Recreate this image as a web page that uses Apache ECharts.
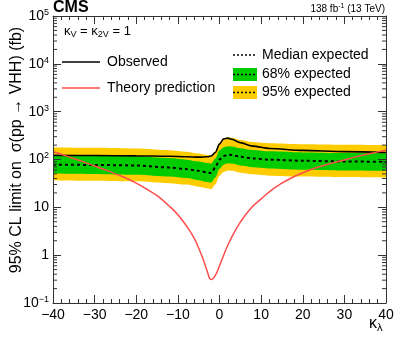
<!DOCTYPE html>
<html>
<head>
<meta charset="utf-8">
<script src="https://cdn.jsdelivr.net/npm/echarts@6/dist/echarts.min.js"></script>
<style>
  html, body { margin: 0; padding: 0; background: #fff; }
  #chart { width: 399px; height: 338px; }
</style>
</head>
<body>
<div id="chart"></div>
<script>
// kappa_lambda scan points
const kl = [-40, -30, -20, -12, -8, -5, -3, -2, -1, 0, 1, 2, 3, 5, 8, 12, 20, 30, 40]
const observed = [122, 121, 119, 117, 114, 112, 114, 118, 140, 210, 270, 280, 265, 225, 190, 170, 155, 146, 140]
const median = [78, 77, 75, 68, 63, 58, 54, 52, 68, 100, 118, 126, 124, 114, 105, 99, 94, 91, 89]
const band68Low = [51, 50, 48, 44, 41, 37, 34, 33, 42, 64, 78, 83, 82, 75, 69, 65, 61, 59, 58]
const band68High = [123, 121, 117, 107, 99, 91, 85, 82, 105, 155, 180, 190, 188, 172, 158, 148, 140, 136, 134]
const band95Low = [37, 36, 35, 32, 30, 27, 25, 24, 30, 46, 55, 59, 58, 53, 49, 46, 44, 43, 42]
const band95High = [178, 176, 170, 157, 146, 134, 124, 120, 150, 225, 270, 290, 285, 255, 232, 218, 208, 203, 200]

// theory prediction
const theoryKl = [-40, -37.5, -35, -32.5, -30, -27.5, -25, -22.5, -20, -17.5, -15, -12.5, -10, -7.5, -6, -5, -4, -3, -2, -1, 0, 1, 2.5,
  5, 7.5, 10, 12.5, 15, 17.5, 20, 22.5, 25, 27.5, 30, 32.5, 35, 37.5, 40]
const theory = [145, 124, 105, 88, 73, 61, 50, 41, 32, 24, 17.5, 11.5, 7, 3.6, 2.2, 1.4, 0.85, 0.48, 0.31, 0.38, 0.6, 1.0, 2.0,
  4.9, 9.5, 15, 23, 32, 42, 53, 64, 75, 86, 98, 112, 126, 141, 158]

const GREEN = '#00cc00'
const YELLOW = '#ffcc00'
const RED = '#ff4d4d'
const FONT = 'Liberation Sans'

const pairs = (xs, ys) => xs.map((x, i) => [x, ys[i]])

// log minor ticks 2..9 in every decade
const minorY = []
for (let e = -1; e < 5; e++) {
  for (let m = 2; m <= 9; m++) minorY.push(m * Math.pow(10, e))
}

const chart = echarts.init(document.getElementById('chart'))

const supLabel = function (v) {
  const e = Math.round(Math.log10(v))
  if (e === 0) return '1'
  if (e === 1) return '10'
  return '10{sup|' + (e < 0 ? '\u2212' + (-e) : e) + '}'
}

const axisLine = { show: true, onZero: false, lineStyle: { color: '#333', width: 1 } }
const tick = { inside: true, length: 8, lineStyle: { color: '#333' } }

// filled band edge: area down to the axis minimum, painted in order
function fillTo(name, ys, color) {
  return {
    type: 'line', name: name, data: pairs(kl, ys), symbol: 'none', silent: true,
    smooth: 0.3, smoothMonotone: 'x',
    lineStyle: { width: 0 },
    areaStyle: { color: color, opacity: 1, origin: 'start' }
  }
}

chart.setOption({
  animation: false,
  textStyle: { fontFamily: FONT },
  grid: { left: 53, right: 13, top: 16, bottom: 35 },
  xAxis: [{
    type: 'value', min: -40, max: 40, interval: 10, z: 10,
    axisLine: axisLine, axisTick: tick,
    minorTick: { show: true, splitNumber: 5, length: 4, lineStyle: { color: '#333' } },
    splitLine: { show: false },
    axisLabel: { fontSize: 14, color: '#000', margin: 5, formatter: v => String(v).replace('-', '\u2212') }
  }, {
    type: 'value', min: -40, max: 40, interval: 10, position: 'top', z: 10,
    axisLine: axisLine, axisTick: tick,
    minorTick: { show: true, splitNumber: 5, length: 4, lineStyle: { color: '#333' } },
    splitLine: { show: false },
    axisLabel: { show: false }
  }],
  yAxis: [{
    type: 'log', logBase: 10, min: 0.1, max: 100000, splitNumber: 6, z: 10,
    axisLine: axisLine, axisTick: tick,
    splitLine: { show: false },
    axisLabel: {
      fontSize: 14, color: '#000', margin: 4,
      formatter: supLabel,
      rich: { sup: { fontSize: 9, verticalAlign: 'top', padding: [0, 0, 7, 0], color: '#000' } }
    }
  }, {
    type: 'log', logBase: 10, min: 0.1, max: 100000, splitNumber: 6, position: 'right', z: 10,
    axisLine: axisLine, axisTick: tick,
    splitLine: { show: false },
    axisLabel: { show: false }
  }],
  series: [
    fillTo('95% expected', band95High, YELLOW),
    fillTo('68% expected', band68High, GREEN),
    fillTo('68% low', band68Low, YELLOW),
    fillTo('95% low', band95Low, '#ffffff'),
    {
      type: 'line', name: 'Median expected', data: pairs(kl, median), symbol: 'none',
      smooth: 0.3, smoothMonotone: 'x',
      lineStyle: { color: '#000', width: 2, type: [3, 3] }
    },
    {
      type: 'line', name: 'Observed', data: pairs(kl, observed), symbol: 'none',
      smooth: 0.3, smoothMonotone: 'x',
      lineStyle: { color: '#000', width: 1.6 }
    },
    {
      type: 'line', name: 'Theory prediction', data: pairs(theoryKl, theory), symbol: 'none',
      smooth: 0.5,
      lineStyle: { color: RED, width: 1.5 }
    },
    {
      // log minor ticks on left and right frame
      type: 'custom', silent: true, z: 10,
      data: minorY.map(v => [0, v]),
      encode: { x: 0, y: 1 },
      renderItem: function (params, api) {
        const v = api.value(1)
        const l = api.coord([-40, v])
        const r = api.coord([40, v])
        const st = { stroke: '#333', lineWidth: 1 }
        return {
          type: 'group',
          children: [
            { type: 'line', shape: { x1: l[0], y1: l[1], x2: l[0] + 4, y2: l[1] }, style: st },
            { type: 'line', shape: { x1: r[0], y1: r[1], x2: r[0] - 4, y2: r[1] }, style: st }
          ]
        }
      }
    }
  ],
  graphic: [
    { type: 'text', left: 53, top: 0, style: { text: 'CMS', font: 'bold 16px ' + FONT, fill: '#000' } },
    { type: 'text', right: 14, top: 3, style: { text: '138 fb{sup|-1} (13 TeV)', font: '10px ' + FONT, fill: '#000',
      rich: { sup: { fontSize: 7, verticalAlign: 'top', padding: [0, 0, 5, 0] } } } },
    { type: 'text', left: 64, top: 25, style: { text: '\u03ba{sub|V} = \u03ba{sub|2V} = 1', font: '13px ' + FONT, fill: '#000',
      rich: { sub: { fontSize: 9, verticalAlign: 'bottom', padding: [6, 0, 0, 0] } } } },
    { type: 'text', left: 369, top: 316, style: { text: '\u03ba{sub|\u03bb}', font: '16px ' + FONT, fill: '#000',
      rich: { sub: { fontSize: 11, verticalAlign: 'bottom', padding: [7, 0, 0, 0] } } } },
    { type: 'text', x: 17, y: 150, rotation: Math.PI / 2,
      style: { text: '95% CL limit on  \u03c3(pp \u2192 VHH) (fb)', font: '16px ' + FONT, fill: '#000', align: 'center', verticalAlign: 'middle' } },

    // legend, left block
    { type: 'line', shape: { x1: 62, y1: 62, x2: 100, y2: 62 }, style: { stroke: '#000', lineWidth: 1.5 } },
    { type: 'text', x: 107, y: 62, style: { text: 'Observed', font: '14px ' + FONT, fill: '#000', verticalAlign: 'middle' } },
    { type: 'line', shape: { x1: 62, y1: 88, x2: 100, y2: 88 }, style: { stroke: RED, lineWidth: 1.5 } },
    { type: 'text', x: 107, y: 88, style: { text: 'Theory prediction', font: '14px ' + FONT, fill: '#000', verticalAlign: 'middle' } },

    // legend, right block
    { type: 'line', shape: { x1: 233, y1: 55, x2: 257, y2: 55 }, style: { stroke: '#000', lineWidth: 1.5, lineDash: [2, 2] } },
    { type: 'text', x: 262, y: 55, style: { text: 'Median expected', font: '14px ' + FONT, fill: '#000', verticalAlign: 'middle' } },
    { type: 'rect', shape: { x: 233, y: 68, width: 24, height: 13 }, style: { fill: GREEN } },
    { type: 'line', shape: { x1: 233, y1: 74.5, x2: 257, y2: 74.5 }, style: { stroke: '#000', lineWidth: 1.5, lineDash: [2, 2] } },
    { type: 'text', x: 262, y: 74, style: { text: '68% expected', font: '14px ' + FONT, fill: '#000', verticalAlign: 'middle' } },
    { type: 'rect', shape: { x: 233, y: 86, width: 24, height: 13 }, style: { fill: YELLOW } },
    { type: 'line', shape: { x1: 233, y1: 92.5, x2: 257, y2: 92.5 }, style: { stroke: '#000', lineWidth: 1.5, lineDash: [2, 2] } },
    { type: 'text', x: 262, y: 92, style: { text: '95% expected', font: '14px ' + FONT, fill: '#000', verticalAlign: 'middle' } }
  ]
})
</script>
</body>
</html>
